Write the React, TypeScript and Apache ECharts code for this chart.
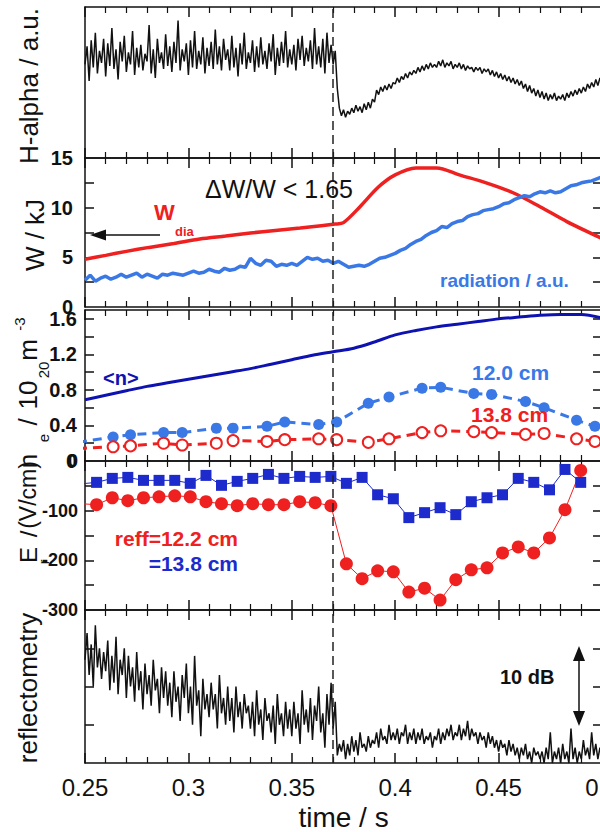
import React, { useEffect, useRef } from "react";
import * as echarts from "echarts";

const FONT = "'Liberation Sans', Arial, Helvetica, sans-serif";
const INK = "#111";

// shared time axis
const timeMin = 0.25;
const timeMax = 0.5;
const xTickLabels = [0.25, 0.3, 0.35, 0.4, 0.45, 0.5];
const transitionTime = 0.371;

// Panel 1: H-alpha (a.u.), sampled every 1 ms from 0.25 s
const hAlphaStart = 0.25;
const hAlphaStep = 0.001;
const hAlphaValues = [
  6.2, 7.4, 5.1, 7.8, 6.0, 8.3, 5.6, 7.1, 6.3, 7.9,
  5.4, 7.6, 6.1, 8.6, 5.9, 7.2, 5.2, 7.7, 6.4, 8.1,
  5.7, 7.0, 6.2, 8.4, 5.5, 7.3, 6.0, 7.5, 5.8, 6.9,
  6.4, 8.8, 5.6, 7.2, 5.3, 7.9, 6.3, 7.0, 5.9, 8.2,
  6.1, 7.4, 5.7, 7.7, 6.3, 9.1, 5.8, 7.2, 6.4, 7.6,
  5.5, 7.8, 6.0, 8.4, 5.9, 7.1, 6.2, 8.0, 5.6, 7.3,
  6.1, 7.7, 5.9, 8.5, 6.2, 7.4, 5.8, 7.9, 6.5, 7.2,
  5.8, 8.1, 6.0, 7.3, 5.4, 7.6, 6.2, 8.3, 5.9, 7.0,
  6.3, 7.8, 5.7, 7.4, 6.0, 8.0, 6.2, 7.1, 5.9, 7.6,
  6.4, 8.2, 5.5, 7.3, 6.1, 7.7, 6.3, 8.4, 6.0, 7.2,
  6.2, 7.5, 5.8, 7.9, 6.5, 8.1, 6.1, 7.3, 6.4, 7.8,
  5.9, 8.6, 6.2, 7.4, 6.0, 7.9, 5.6, 8.3, 6.3, 7.5,
  6.2, 7.1, 4.6, 3.3,
  2.8, 3.2, 2.7, 3.1, 2.9, 3.3,
  3.0, 3.5, 3.1, 3.4, 3.0, 3.6, 3.2, 3.7, 3.3, 3.9,
  3.7, 4.5, 4.2, 4.7, 4.4, 4.8, 4.5, 4.9, 4.6, 5.0,
  4.9, 5.3, 5.0, 5.4, 5.2, 5.6, 5.3, 5.7, 5.5, 5.8,
  5.6, 6.0, 5.7, 6.1, 5.8, 6.2, 5.9, 6.3, 6.0, 6.2,
  6.0, 6.4, 6.1, 6.5, 6.0, 6.3, 6.1, 6.4, 5.9, 6.2,
  6.0, 6.3, 5.9, 6.2, 5.8, 6.1, 5.9, 6.0, 5.7, 6.0,
  5.8, 6.0, 5.6, 5.9, 5.7, 5.9, 5.5, 5.8, 5.4, 5.7,
  5.3, 5.6, 5.2, 5.5, 5.1, 5.4, 5.0, 5.3, 4.9, 5.2,
  4.8, 5.1, 4.6, 4.9, 4.4, 4.8, 4.3, 4.6, 4.1, 4.5,
  4.0, 4.4, 3.9, 4.3, 3.8, 4.2, 3.9, 4.3, 3.8, 4.1,
  3.9, 4.2, 3.8, 4.3, 4.0, 4.4, 4.1, 4.5, 4.2, 4.6,
  4.3, 4.7, 4.4, 4.9, 4.6, 5.0, 4.7, 5.2, 4.8, 5.3, 5.0,
];

// Panel 2: stored energy W_dia (kJ) and radiation (a.u.)
const wDiaTimes = [0.25, 0.26, 0.27, 0.281, 0.293, 0.3055, 0.318, 0.33, 0.342, 0.354, 0.371, 0.375, 0.383, 0.392, 0.4, 0.41, 0.42, 0.431, 0.444, 0.457, 0.47, 0.483, 0.5];
const wDiaValues = [4.8, 5.2, 5.6, 6.0, 6.4, 6.85, 7.15, 7.45, 7.7, 7.95, 8.35, 8.5, 10.1, 12.1, 13.3, 14.0, 14.0, 13.3, 12.5, 11.5, 10.1, 8.6, 6.9];
const radiationStart = 0.25;
const radiationStep = 0.0025;
const radiationValues = [
  2.7, 3.2, 2.6, 2.9, 3.1, 2.8, 3.0, 3.3, 3.0, 3.2,
  3.4, 3.0, 3.3, 3.1, 2.9, 3.3, 3.2, 3.4, 3.3, 3.2,
  3.4, 3.6, 3.4, 3.5, 3.8, 3.6, 3.5, 3.9, 3.7, 3.8,
  4.1, 4.0, 4.9, 4.4, 4.2, 4.7, 4.6, 4.1, 4.3, 4.2,
  4.4, 4.2, 4.6, 5.0, 4.8, 4.9, 4.6, 4.7, 4.4, 4.6,
  4.3, 4.0, 4.1, 4.2, 4.1, 4.3, 4.6, 4.9, 5.0, 5.2,
  5.4, 5.7, 5.9, 6.3, 6.6, 6.8, 7.2, 7.5, 7.7, 8.1,
  8.0, 8.4, 8.6, 8.7, 9.1, 9.3, 9.4, 9.7, 9.8, 9.9,
  10.1, 10.4, 10.5, 10.8, 11.0, 11.2, 11.1, 11.4, 11.6, 11.5,
  11.7, 11.5, 11.6, 11.9, 12.2, 12.3, 12.5, 12.6, 12.7, 12.9, 13.1,
];

// Panel 3: density (1e20 m^-3)
const nAvgTimes = [0.25, 0.26, 0.27, 0.28, 0.29, 0.3, 0.31, 0.32, 0.33, 0.34, 0.35, 0.36, 0.37, 0.38, 0.39, 0.4, 0.41, 0.42, 0.43, 0.44, 0.45, 0.46, 0.47, 0.48, 0.49, 0.5];
const nAvgValues = [0.69, 0.74, 0.79, 0.84, 0.88, 0.92, 0.96, 1.0, 1.04, 1.09, 1.14, 1.19, 1.23, 1.27, 1.34, 1.42, 1.47, 1.51, 1.54, 1.57, 1.6, 1.62, 1.64, 1.65, 1.65, 1.61];
const neTimes = [0.2466, 0.2636, 0.272, 0.288, 0.297, 0.3135, 0.3216, 0.338, 0.3466, 0.363, 0.3717, 0.387, 0.397, 0.413, 0.422, 0.438, 0.4466, 0.463, 0.472, 0.4877, 0.4966];
const ne120Values = [0.21, 0.27, 0.295, 0.32, 0.32, 0.37, 0.37, 0.39, 0.44, 0.41, 0.44, 0.65, 0.72, 0.82, 0.83, 0.76, 0.75, 0.67, 0.6, 0.46, 0.39];
const ne138Values = [0.14, 0.16, 0.17, 0.2, 0.18, 0.2, 0.23, 0.22, 0.24, 0.25, 0.24, 0.21, 0.25, 0.32, 0.34, 0.33, 0.32, 0.3, 0.31, 0.25, 0.22];

// Panel 4: radial electric field (V/cm)
const erTimes = [0.2481, 0.2556, 0.2632, 0.2707, 0.2783, 0.2858, 0.2934, 0.3009, 0.3085, 0.316, 0.3236, 0.3311, 0.3387, 0.3462, 0.3538, 0.3613, 0.3689, 0.3764, 0.384, 0.3915, 0.3991, 0.4066, 0.4142, 0.4217, 0.4293, 0.4368, 0.4444, 0.4519, 0.4595, 0.467, 0.4746, 0.4821, 0.4897];
const er138Values = [-46, -43, -35, -33, -39, -39, -39, -45, -29, -49, -41, -35, -27, -35, -31, -33, -31, -45, -33, -68, -76, -114, -104, -94, -108, -82, -74, -68, -35, -43, -58, -17, -43];
const er122Values = [-86, -88, -74, -80, -74, -72, -70, -72, -82, -86, -90, -86, -88, -88, -82, -84, -90, -207, -237, -221, -223, -264, -256, -280, -239, -219, -215, -185, -173, -185, -155, -98, -19];

// Panel 5: reflectometry (a.u.), sampled every 1 ms from 0.25 s
const reflStart = 0.25;
const reflStep = 0.001;
const reflValues = [
  2.7, 3.4, 2.3, 3.1, 2.0, 3.6, 2.5, 3.0, 2.2, 2.9,
  2.4, 3.2, 1.9, 2.8, 2.1, 3.3, 1.8, 2.7, 2.3, 3.0,
  1.7, 2.8, 2.0, 2.5, 1.6, 2.9, 1.9, 2.4, 1.4, 2.6,
  1.8, 2.3, 1.5, 2.7, 1.9, 2.2, 1.3, 2.5, 1.7, 2.4,
  1.5, 2.1, 1.2, 2.4, 1.6, 2.0, 1.1, 2.3, 1.7, 2.6,
  1.3, 2.0, 1.0, 2.8, 1.5, 1.9, 0.7, 2.2, 1.4, 1.8,
  1.2, 2.1, 1.4, 1.8, 0.9, 2.3, 1.3, 1.7, 1.0, 2.0,
  1.1, 1.7, 0.8, 2.0, 1.2, 1.6, 0.9, 1.8, 1.3, 1.5,
  0.9, 1.6, 0.7, 1.9, 1.0, 1.4, 0.6, 1.7, 1.1, 1.3,
  0.8, 1.5, 0.5, 1.8, 1.0, 1.3, 0.7, 1.6, 0.9, 1.4,
  0.7, 1.6, 0.9, 1.3, 0.5, 1.9, 1.0, 1.4, 0.8, 1.7,
  0.6, 1.5, 1.1, 2.0, 0.8, 1.3, 0.4, 1.8, 1.0, 2.1,
  0.9, 1.6, 0.2, 0.5,
  0.3, 0.6, 0.1, 0.5, 0.2, 0.7,
  0.3, 0.6, 0.2, 0.8, 0.4, 0.5, 0.3, 0.7, 0.4, 0.6,
  0.5, 0.8, 0.4, 0.9, 0.6, 0.7, 0.5, 1.0, 0.6, 0.8,
  0.6, 0.9, 0.5, 0.8, 0.7, 1.0, 0.5, 0.8, 0.6, 0.9,
  0.5, 0.8, 0.6, 0.9, 0.5, 0.7, 0.6, 0.8, 0.4, 0.7,
  0.6, 0.9, 0.5, 0.8, 0.6, 0.9, 0.7, 1.0, 0.6, 0.8,
  0.7, 1.0, 0.6, 0.9, 0.7, 1.1, 0.6, 0.9, 0.7, 0.8,
  0.5, 0.8, 0.6, 0.7, 0.4, 0.8, 0.5, 0.7, 0.4, 0.6,
  0.3, 0.6, 0.4, 0.5, 0.2, 0.6, 0.3, 0.5, 0.2, 0.4,
  0.1, 0.4, 0.2, 0.5, 0.1, 0.3, 0.0, 0.4, 0.2, 0.3,
  0.1, 0.3, 0.0, 0.4, 0.1, 0.8, 0.0, 0.3, 0.1, 0.4,
  0.0, 0.5, 0.1, 0.3, 0.0, 0.9, 0.1, 0.4, 0.0, 0.3,
  0.1, 0.6, 0.2, 0.4, 0.1, 0.8, 0.2, 0.5, 0.1, 0.4, 0.2,
];

// y-axis ranges, tick and label values
const wLabels = [0, 5, 10, 15];
const wTicks = [2.5, 5, 7.5, 10, 12.5];
const neLabels = [0, 0.4, 0.8, 1.2, 1.6];
const neTicks = [0.2, 0.4, 0.6, 0.8, 1.0, 1.2, 1.4, 1.6];
const erLabels = [0, -100, -200, -300];
const erTicks = [-50, -100, -150, -200, -250];
const reflTicks = [1, 2, 3];

const grids = [
  { top: 7, height: 151 },
  { top: 158, height: 149 },
  { top: 310, height: 151 },
  { top: 461, height: 149 },
  { top: 610, height: 153 },
];

const pairs = (ts: number[], vs: number[]) => vs.map((v, i) => [ts[i], v]);
const sampled = (start: number, step: number, vs: number[]) =>
  vs.map((v, i) => [+(start + i * step).toFixed(4), v]);

function xAxisFor(i: number, position: "top" | "bottom") {
  const isLast = i === grids.length - 1 && position === "bottom";
  return {
    type: "value",
    gridIndex: i,
    position,
    min: timeMin,
    max: timeMax,
    interval: 0.05,
    axisLine: { show: true, onZero: false, lineStyle: { color: INK, width: 1.5 } },
    axisTick: { show: true, inside: true, length: 10, lineStyle: { color: INK, width: 1.5 } },
    minorTick: { show: true, splitNumber: 5, length: 6, lineStyle: { color: INK, width: 1.2 } },
    splitLine: { show: false },
    minorSplitLine: { show: false },
    axisLabel: {
      show: isLast,
      customValues: xTickLabels,
      fontFamily: FONT,
      fontSize: 24,
      color: INK,
      margin: 12,
    },
    name: isLast ? "time / s" : "",
    nameLocation: "middle",
    nameGap: 40,
    nameTextStyle: { fontFamily: FONT, fontSize: 28, color: INK },
  };
}

function yAxisFor(
  i: number,
  position: "left" | "right",
  min: number,
  max: number,
  ticks: number[],
  labels: number[],
  labelSize: number,
  labelMargin: number
) {
  return {
    type: "value",
    gridIndex: i,
    position,
    min,
    max,
    axisLine: { show: true, onZero: false, lineStyle: { color: INK, width: 1.5 } },
    axisTick: {
      show: ticks.length > 0,
      inside: true,
      length: 9,
      customValues: ticks,
      lineStyle: { color: INK, width: 1.5 },
    },
    splitLine: { show: false },
    axisLabel: {
      show: position === "left" && labels.length > 0,
      customValues: labels,
      fontFamily: FONT,
      fontSize: labelSize,
      fontWeight: "bold",
      color: INK,
      margin: labelMargin,
    },
  };
}

const dashMark = {
  silent: true,
  symbol: ["none", "none"],
  label: { show: false },
  lineStyle: { color: "#222", width: 1.5, type: [9, 5] },
  data: [{ xAxis: transitionTime }],
};

function rotText(text: string, x: number, y: number, size: number, fill = INK, weight = "normal") {
  return {
    type: "text",
    x,
    y,
    rotation: Math.PI / 2,
    z: 50,
    style: {
      text,
      font: `${weight} ${size}px ${FONT}`,
      fill,
      align: "center",
      verticalAlign: "middle",
      textAlign: "center",
      textVerticalAlign: "middle",
    },
  };
}

function hText(text: string, x: number, y: number, size: number, fill = INK, weight = "normal", align = "left") {
  return {
    type: "text",
    x,
    y,
    z: 50,
    style: {
      text,
      font: `${weight} ${size}px ${FONT}`,
      fill,
      align,
      verticalAlign: "middle",
      textAlign: align,
      textVerticalAlign: "middle",
    },
  };
}

const RED = "#ee2020";
const BLUE = "#3a78e6";
const DARKBLUE = "#0d12b0";
const ERBLUE = "#1d2bcc";

const option = {
  animation: false,
  backgroundColor: "#ffffff",
  grid: grids.map((g) => ({
    left: 85,
    width: 517,
    top: g.top,
    height: g.height,
    containLabel: false,
    outerBoundsMode: "none",
  })),
  xAxis: grids.flatMap((_, i) => [xAxisFor(i, "bottom"), xAxisFor(i, "top")]),
  yAxis: [
    yAxisFor(0, "left", 0, 10, [], [], 20, 10),
    yAxisFor(0, "right", 0, 10, [], [], 20, 10),
    yAxisFor(1, "left", 0, 15, wTicks, wLabels, 20, 12),
    yAxisFor(1, "right", 0, 15, wTicks, [], 20, 12),
    yAxisFor(2, "left", 0, 1.7, neTicks, neLabels, 20, 8),
    yAxisFor(2, "right", 0, 1.7, neTicks, [], 20, 8),
    yAxisFor(3, "left", -300, 0, erTicks, erLabels, 18, 7),
    yAxisFor(3, "right", -300, 0, erTicks, [], 18, 7),
    yAxisFor(4, "left", 0, 4, reflTicks, [], 18, 8),
    yAxisFor(4, "right", 0, 4, reflTicks, [], 18, 8),
  ],
  series: [
    {
      name: "H-alpha",
      type: "line",
      xAxisIndex: 0,
      yAxisIndex: 0,
      data: sampled(hAlphaStart, hAlphaStep, hAlphaValues),
      showSymbol: false,
      symbol: "none",
      lineStyle: { color: INK, width: 1.5 },
      markLine: dashMark,
    },
    {
      name: "W_dia",
      type: "line",
      xAxisIndex: 2,
      yAxisIndex: 2,
      data: pairs(wDiaTimes, wDiaValues),
      showSymbol: false,
      symbol: "none",
      smooth: 0.3,
      lineStyle: { color: RED, width: 3.5 },
      markLine: dashMark,
    },
    {
      name: "radiation",
      type: "line",
      xAxisIndex: 2,
      yAxisIndex: 2,
      data: sampled(radiationStart, radiationStep, radiationValues),
      showSymbol: false,
      symbol: "none",
      lineStyle: { color: BLUE, width: 3.5 },
    },
    {
      name: "<n>",
      type: "line",
      xAxisIndex: 4,
      yAxisIndex: 4,
      data: pairs(nAvgTimes, nAvgValues),
      showSymbol: false,
      symbol: "none",
      smooth: 0.3,
      lineStyle: { color: DARKBLUE, width: 3 },
      markLine: dashMark,
    },
    {
      name: "12.0 cm",
      type: "line",
      xAxisIndex: 4,
      yAxisIndex: 4,
      data: pairs(neTimes, ne120Values),
      symbol: "circle",
      symbolSize: 11,
      itemStyle: { color: BLUE },
      lineStyle: { color: BLUE, width: 3, type: [9, 6] },
    },
    {
      name: "13.8 cm",
      type: "line",
      xAxisIndex: 4,
      yAxisIndex: 4,
      data: pairs(neTimes, ne138Values),
      symbol: "emptyCircle",
      symbolSize: 11,
      itemStyle: { color: RED, borderWidth: 1.5 },
      lineStyle: { color: RED, width: 3, type: [9, 6] },
    },
    {
      name: "Er 13.8",
      type: "line",
      xAxisIndex: 6,
      yAxisIndex: 6,
      data: pairs(erTimes, er138Values),
      symbol: "rect",
      symbolSize: 11,
      itemStyle: { color: ERBLUE },
      lineStyle: { color: ERBLUE, width: 1 },
      markLine: dashMark,
    },
    {
      name: "Er 12.2",
      type: "line",
      xAxisIndex: 6,
      yAxisIndex: 6,
      data: pairs(erTimes, er122Values),
      symbol: "circle",
      symbolSize: 13,
      itemStyle: { color: RED },
      lineStyle: { color: RED, width: 1 },
    },
    {
      name: "reflectometry",
      type: "line",
      xAxisIndex: 8,
      yAxisIndex: 8,
      data: sampled(reflStart, reflStep, reflValues),
      showSymbol: false,
      symbol: "none",
      lineStyle: { color: INK, width: 1.5 },
      markLine: dashMark,
    },
  ],
  graphic: [
    // y-axis titles
    rotText("H-alpha / a.u.", 29, 86, 26),
    rotText("W / kJ", 35, 235, 26),
    rotText("n", 28, 461, 26),
    rotText("e", 43, 438, 15),
    rotText("/", 28, 422, 26),
    rotText("10", 28, 395, 26),
    rotText("20", 43, 370, 15),
    rotText("m", 28, 350, 26),
    rotText("-3", 19, 324, 15),
    rotText("E", 28, 555, 24),
    rotText("r", 44, 562, 14),
    rotText("/", 28, 534, 24),
    rotText("(V/cm)", 28, 495, 23),
    rotText("reflectometry", 28, 688, 26),
    // panel 2 annotations
    hText("\u0394W/W < 1.65", 205, 189, 25),
    hText("W", 154, 212, 22, RED, "bold"),
    hText("dia", 175, 231, 13, RED, "bold"),
    { type: "line", z: 50, shape: { x1: 160, y1: 235, x2: 102, y2: 235 }, style: { stroke: INK, lineWidth: 1.5 } },
    { type: "polygon", z: 50, shape: { points: [[90, 235], [106, 229.5], [106, 240.5]] }, style: { fill: INK } },
    hText("radiation / a.u.", 440, 280, 19, BLUE, "bold"),
    // panel 3 annotations
    hText("<n>", 103, 378, 20, DARKBLUE, "bold"),
    hText("12.0 cm", 472, 372, 21, BLUE, "bold"),
    hText("13.8 cm", 471, 414, 21, RED, "bold"),
    // panel 4 annotations
    hText("reff=12.2 cm", 238, 538, 21, RED, "bold", "right"),
    hText("=13.8 cm", 238, 563, 21, ERBLUE, "bold", "right"),
    // panel 5 annotations
    hText("10 dB", 500, 677, 20, INK, "bold"),
    { type: "line", z: 50, shape: { x1: 579, y1: 656, x2: 579, y2: 715 }, style: { stroke: INK, lineWidth: 1.5 } },
    { type: "polygon", z: 50, shape: { points: [[579, 646], [573, 661], [585, 661]] }, style: { fill: INK } },
    { type: "polygon", z: 50, shape: { points: [[579, 726], [573, 711], [585, 711]] }, style: { fill: INK } },
  ],
};

export default function App() {
  const ref = useRef<HTMLDivElement>(null);
  useEffect(() => {
    if (!ref.current) return;
    const chart = echarts.init(ref.current, null, { renderer: "svg" });
    chart.setOption(option as any);
    return () => chart.dispose();
  }, []);
  return (
    <div
      ref={ref}
      style={{ position: "fixed", left: 0, top: 0, width: 600, height: 832, background: "#fff" }}
    />
  );
}
